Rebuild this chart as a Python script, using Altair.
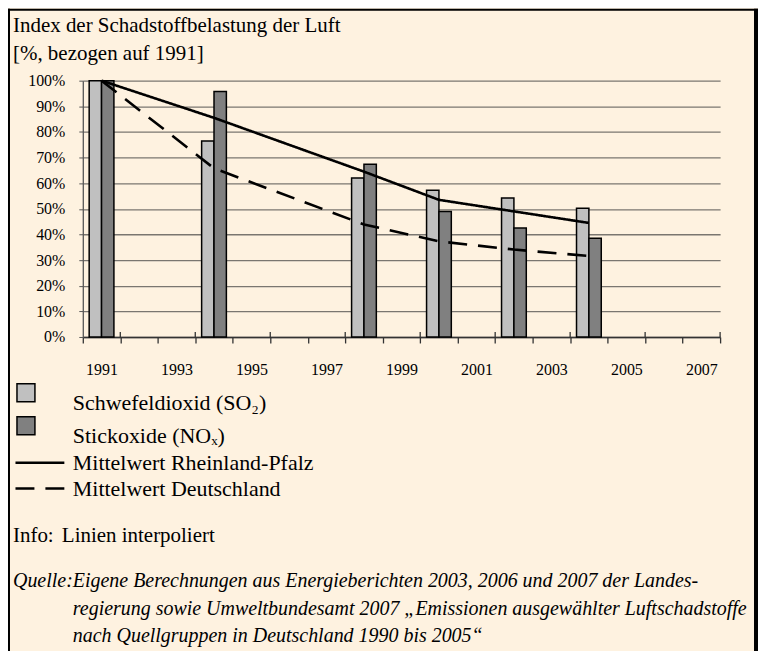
import altair as alt
import pandas as pd

# ---------------- data ----------------
bar_years = [1991, 1994, 1998, 2000, 2002, 2004]
so2_values = [100, 76.5, 62.0, 57.2, 54.2, 50.2]
nox_values = [100, 95.8, 67.4, 49.0, 42.5, 38.5]

line_years = [1991, 1994, 1998, 2000, 2002, 2004]
rlp_values = [100, 85.5, 64.5, 53.5, 49.0, 44.5]
de_values = [100, 65.8, 43.9, 37.3, 34.1, 31.6]

bar_series = ["Schwefeldioxid (SO₂)", "Stickoxide (NOₓ)"]
line_series = ["Mittelwert Rheinland-Pfalz", "Mittelwert Deutschland"]
bar_colors = ["#C0C0C0", "#808080"]

first_year, last_year = 1991, 2007
y_ticks = [0, 10, 20, 30, 40, 50, 60, 70, 80, 90, 100]

title_lines = ["Index der Schadstoffbelastung der Luft", "[%, bezogen auf 1991]"]
info_label = "Info:"
info_text = "Linien interpoliert"
source_label = "Quelle:"
source_lines = [
    "Eigene Berechnungen aus Energieberichten 2003, 2006 und 2007 der Landes-",
    "regierung sowie Umweltbundesamt 2007 „Emissionen ausgewählter Luftschadstoffe",
    "nach Quellgruppen in Deutschland 1990 bis 2005“",
]

# ---------------- tables ----------------
bar_df = pd.DataFrame(
    {
        "year": bar_years * 2,
        "value": so2_values + nox_values,
        "series": [bar_series[0]] * len(bar_years) + [bar_series[1]] * len(bar_years),
        "idx": [0] * len(bar_years) + [1] * len(bar_years),
    }
)
line_df = pd.DataFrame(
    {
        "year": line_years * 2,
        "value": rlp_values + de_values,
        "series": [line_series[0]] * len(line_years) + [line_series[1]] * len(line_years),
    }
)
one = pd.DataFrame({"d": [0]})

SERIF = "Liberation Serif"
W, H = 639, 257

boundaries = [y - 0.5 for y in range(first_year, last_year + 2)]
major_df = pd.DataFrame({"b": [y + 0.5 for y in range(first_year, last_year + 1, 2)]})
xscale = alt.Scale(domain=[first_year - 0.5, last_year + 0.5], nice=False, zero=False)
yscale = alt.Scale(domain=[0, 100], nice=False)

xaxis = alt.Axis(
    values=boundaries,
    labelExpr=f"((datum.value + 0.5) % 2 == 1 && datum.value < {last_year}) ? '' + (datum.value + 0.5) : ''",
    labelOffset=W / (last_year - first_year + 1) / 2,
    labelOverlap=False,
    labelFlush=False,
    labelFont=SERIF,
    labelFontSize=16,
    labelColor="black",
    labelPadding=19,
    tickSize=6,
    tickColor="#333",
    tickWidth=1.3,
    domainColor="#333",
    domainWidth=1.5,
    grid=False,
    title=None,
)
yaxis = alt.Axis(
    values=y_ticks,
    tickCount=11,
    labelExpr="datum.value + '%'",
    labelOverlap=False,
    labelFlush=False,
    labelFont=SERIF,
    labelFontSize=16,
    labelColor="black",
    labelPadding=14,
    tickSize=4,
    tickColor="#555",
    domainColor="#555",
    domainWidth=1.3,
    grid=True,
    gridColor="#7a7670",
    gridWidth=1.3,
    title=None,
)

bars = (
    alt.Chart(bar_df)
    .transform_calculate(
        x0="datum.year - (datum.idx == 0 ? 0.33 : 0)",
        x1="datum.year + (datum.idx == 0 ? 0 : 0.33)",
    )
    .mark_bar(stroke="black", strokeWidth=1.5)
    .encode(
        x=alt.X("x0:Q", scale=xscale, axis=xaxis),
        x2="x1:Q",
        y=alt.Y("value:Q", scale=yscale, axis=yaxis),
        y2=alt.datum(0),
        fill=alt.Fill(
            "series:N",
            scale=alt.Scale(domain=bar_series, range=bar_colors),
            legend=alt.Legend(
                title=None,
                orient="none",
                legendX=-68,
                legendY=302,
                symbolType="square",
                symbolSize=324,
                symbolStrokeColor="black",
                symbolStrokeWidth=1.5,
                symbolOpacity=1,
                labelFont=SERIF,
                labelFontSize=22,
                labelColor="black",
                labelBaseline="top",
                labelLimit=500,
                labelOffset=36,
                rowPadding=0,
            ),
        ),
    )
)

major_ticks = (
    alt.Chart(major_df)
    .mark_rule(color="#333", strokeWidth=1.3)
    .encode(
        x=alt.X("b:Q", scale=xscale, axis=xaxis),
        y=alt.value(H - 5),
        y2=alt.value(H),
    )
)

lines = (
    alt.Chart(line_df)
    .mark_line(color="black", strokeWidth=2.6)
    .encode(
        x=alt.X("year:Q", scale=xscale, axis=xaxis),
        y=alt.Y("value:Q", scale=yscale, axis=yaxis),
        strokeDash=alt.StrokeDash(
            "series:N",
            scale=alt.Scale(domain=line_series, range=[[1, 0], [19, 11]]),
            legend=alt.Legend(
                title=None,
                orient="none",
                legendX=-69,
                legendY=376,
                symbolType="stroke",
                symbolSize=2401,
                symbolStrokeColor="black",
                symbolStrokeWidth=2.5,
                clipHeight=14,
                labelFont=SERIF,
                labelFontSize=22,
                labelColor="black",
                labelLimit=500,
                labelOffset=7,
                rowPadding=4,
            ),
        ),
        order="year:Q",
    )
)


def txt(text, x, y, size=22, style="normal", line_height=None):
    kw = dict(align="left", baseline="alphabetic", font=SERIF, fontSize=size,
              fontStyle=style, color="black")
    if line_height is not None:
        kw["lineHeight"] = line_height
    return alt.Chart(one).mark_text(**kw).encode(
        x=alt.value(x), y=alt.value(y), text=alt.value(text)
    )


texts = [
    txt(title_lines, -70, -49, size=21, line_height=28),
    txt(info_label, -70, 463, size=21),
    txt(info_text, -21, 463, size=21),
    txt(source_label, -70, 508, size=20, style="italic"),
    txt(source_lines, -10, 508, size=20, style="italic", line_height=27.5),
]

frame = [
    alt.Chart(one).mark_rule(color="black", strokeWidth=2).encode(
        x=alt.value(-74), y=alt.value(-72), y2=alt.value(575)
    ),
    alt.Chart(one).mark_rule(color="black", strokeWidth=2).encode(
        x=alt.value(-75), x2=alt.value(677), y=alt.value(-71)
    ),
    alt.Chart(one).mark_rule(color="black", strokeWidth=4).encode(
        x=alt.value(675), y=alt.value(-72), y2=alt.value(575)
    ),
]

chart = (
    alt.layer(bars, major_ticks, lines, *texts, *frame)
    .properties(
        width=W,
        height=H,
        autosize=alt.AutoSizeParams(type="none"),
        padding={"left": 75, "top": 72, "right": 38, "bottom": 314},
        background="#FEF2E0",
    )
    .configure_view(stroke=None)
)

chart.save("out.html", embed_options={"renderer": "svg", "actions": False})
